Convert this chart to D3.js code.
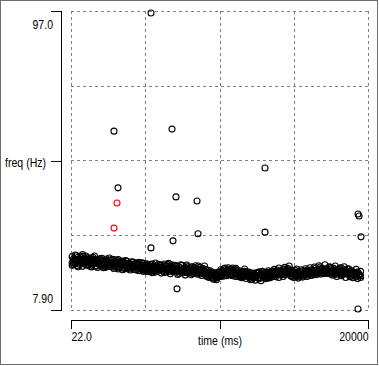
<!DOCTYPE html>
<html>
<head>
<meta charset="utf-8">
<script src="https://cdn.jsdelivr.net/npm/d3@7"></script>
<style>
  body { margin: 0; background: #fff; }
  svg { display: block; }
  text { font-family: "Liberation Sans", Arial, sans-serif; font-size: 13.5px; fill: #000; }
</style>
</head>
<body>
<script>
// pitch track: frame times (ms), three pitch estimates per frame (Hz)
var bandTimes = [
  100, 200, 300, 400, 500, 600, 700, 800, 900, 1000,
  1100, 1200, 1300, 1400, 1500, 1600, 1700, 1800, 1900, 2000,
  2100, 2200, 2300, 2400, 2500, 2600, 2700, 2800, 2900, 3000,
  3100, 3200, 3300, 3400, 3500, 3600, 3700, 3800, 3900, 4000,
  4100, 4200, 4300, 4400, 4500, 4600, 4700, 4800, 4900, 5000,
  5100, 5200, 5300, 5400, 5500, 5600, 5700, 5800, 5900, 6000,
  6100, 6200, 6300, 6400, 6500, 6600, 6700, 6800, 6900, 7000,
  7100, 7200, 7300, 7400, 7500, 7600, 7700, 7800, 7900, 8000,
  8100, 8200, 8300, 8400, 8500, 8600, 8700, 8800, 8900, 9000,
  9100, 9200, 9300, 9400, 9500, 9600, 9700, 9800, 9900, 10000,
  10100, 10200, 10300, 10400, 10500, 10600, 10700, 10800, 10900, 11000,
  11100, 11200, 11300, 11400, 11500, 11600, 11700, 11800, 11900, 12000,
  12100, 12200, 12300, 12400, 12500, 12600, 12700, 12800, 12900, 13000,
  13100, 13200, 13300, 13400, 13500, 13600, 13700, 13800, 13900, 14000,
  14100, 14200, 14300, 14400, 14500, 14600, 14700, 14800, 14900, 15000,
  15100, 15200, 15300, 15400, 15500, 15600, 15700, 15800, 15900, 16000,
  16100, 16200, 16300, 16400, 16500, 16600, 16700, 16800, 16900, 17000,
  17100, 17200, 17300, 17400, 17500, 17600, 17700, 17800, 17900, 18000,
  18100, 18200, 18300, 18400, 18500, 18600, 18700, 18800, 18900, 19000,
  19100, 19200, 19300, 19400, 19500
];
var bandFreqsA = [
  23.8, 21.4, 22.9, 24.1, 21.0, 22.6, 23.5, 20.9, 22.2, 24.0,
  21.3, 23.0, 22.6, 20.7, 23.6, 21.9, 22.8, 20.6, 21.5, 23.2,
  22.4, 20.5, 21.7, 23.1, 20.9, 22.0, 21.2, 23.0, 20.3, 21.8,
  22.7, 20.1, 21.5, 22.3, 19.9, 21.1, 22.6, 20.4, 21.8, 19.8,
  21.6, 22.2, 20.0, 20.9, 21.9, 19.6, 20.7, 22.0, 19.4, 20.5,
  21.7, 19.3, 20.4, 21.5, 19.0, 20.8, 21.9, 19.5, 20.1, 21.3,
  18.9, 20.6, 21.6, 19.2, 20.3, 21.8, 18.7, 20.0, 21.1, 19.6,
  20.9, 18.5, 19.9, 21.4, 19.1, 20.2, 18.3, 21.0, 19.7, 20.5,
  18.4, 20.8, 19.3, 21.1, 18.6, 19.9, 20.6, 18.2, 19.5, 21.0,
  18.0, 19.8, 17.6, 19.2, 18.3, 17.1, 19.0, 16.9, 18.4,
  17.8, 19.9, 18.5, 20.2, 19.0, 18.1, 20.5, 19.3,
  18.3, 20.4, 19.6, 17.9, 19.8, 18.6,
  19.5, 17.5, 18.9, 20.1, 17.3, 18.4, 19.2, 16.9, 18.7, 17.6,
  16.8, 18.9, 17.4, 19.3, 16.6, 18.1, 19.0, 17.2, 18.5, 19.6,
  17.5, 19.4, 18.2, 20.0, 17.8, 19.1, 20.4, 18.4, 19.6, 17.9, 20.6, 18.8, 19.9, 21.0,
  18.0, 19.7, 17.6, 18.9, 20.1, 17.4, 18.6,
  19.9, 17.7, 18.5, 20.2, 17.9, 19.4, 20.5, 18.2, 19.0, 20.7,
  18.4, 19.9, 21.1, 18.6, 20.3, 19.5, 21.4, 18.9, 20.0, 19.2,
  20.6, 18.3, 19.8, 21.0, 17.9, 19.4, 20.4, 18.1, 19.1, 20.8, 17.6, 18.8, 20.2, 17.8,
  19.6, 17.5, 18.9, 20.0, 17.3, 18.6, 19.4
];
var bandFreqsB = [
  22.0, 23.2, 21.7, 22.9, 23.6, 21.5, 22.4, 23.9, 21.8, 22.7,
  22.9, 21.2, 22.5, 23.4, 21.6, 22.8, 21.1, 22.3, 23.0, 21.4,
  21.0, 22.6, 21.9, 20.8, 22.3, 21.4, 22.8, 20.7, 21.9, 22.4,
  21.6, 20.5, 22.2, 21.0, 20.6, 22.0, 21.3, 20.2, 21.7, 20.9,
  20.3, 21.4, 20.8, 21.9, 20.1, 21.2, 20.6, 19.9, 21.3, 20.2,
  20.6, 21.2, 19.7, 20.3, 21.0, 19.6, 20.5, 21.1, 19.8, 20.4,
  20.7, 19.5, 20.2, 19.9, 21.0, 19.4, 20.5, 19.7, 20.4, 21.2,
  19.4, 20.3, 20.7, 19.2, 20.0, 19.5, 20.6, 19.3, 20.1, 19.0,
  19.9, 19.2, 20.4, 19.6, 20.0, 18.9, 19.7, 20.2, 18.8, 19.4,
  19.3, 18.5, 18.9, 18.1, 19.0, 18.4, 17.8, 18.6, 17.7,
  19.2, 18.4, 19.6, 18.8, 19.9, 19.3, 18.7, 20.0,
  19.6, 18.7, 19.2, 19.9, 18.5, 19.3,
  18.3, 19.0, 18.2, 18.7, 19.1, 17.9, 18.5, 18.1, 17.6, 18.3,
  18.4, 17.7, 18.2, 17.5, 18.7, 17.9, 18.3, 18.8, 17.7, 18.1,
  18.9, 18.3, 19.0, 18.6, 19.3, 18.5, 18.9, 19.5, 18.7, 19.8, 19.1, 19.6, 18.9, 19.3,
  19.4, 18.6, 19.1, 18.3, 18.8, 19.2, 18.2,
  18.5, 19.2, 18.9, 18.4, 19.4, 18.7, 19.1, 19.6, 18.8, 19.3,
  19.7, 19.0, 19.5, 20.0, 19.2, 19.9, 19.4, 20.2, 19.6, 20.4,
  19.1, 19.8, 19.3, 18.9, 19.6, 20.0, 19.0, 19.4, 18.7, 19.3, 19.8, 19.1, 18.6, 19.2,
  18.4, 19.1, 18.2, 18.7, 19.0, 18.3, 18.1
];
var bandFreqsC = [
  21.2, 22.4, 24.3, 22.1, 20.8, 23.1, 22.0, 24.4, 21.6, 23.3,
  23.7, 22.1, 20.9, 21.8, 22.9, 24.0, 21.0, 22.5, 21.7, 22.8,
  23.3, 21.5, 20.6, 22.7, 21.2, 23.4, 20.9, 21.6, 22.9, 20.8,
  21.2, 22.9, 20.7, 21.8, 22.5, 20.3, 21.4, 22.4, 20.6, 21.5,
  22.3, 20.5, 21.1, 19.8, 21.5, 22.1, 20.2, 21.0, 21.8, 19.7,
  19.8, 21.4, 20.9, 19.4, 21.6, 20.3, 19.2, 20.7, 21.5, 19.9,
  21.3, 20.4, 19.1, 20.9, 21.5, 19.8, 20.6, 21.4, 19.3, 20.2,
  21.1, 19.6, 18.8, 20.4, 21.2, 19.0, 20.3, 21.3, 18.9, 19.7,
  20.7, 18.8, 19.9, 20.5, 19.1, 21.0, 18.6, 19.8, 20.3, 18.7,
  19.9, 17.9, 18.7, 19.6, 17.6, 18.9, 18.2, 17.4, 19.1,
  18.5, 17.9, 19.4, 18.0, 20.4, 18.6, 19.5, 18.4,
  20.1, 18.1, 18.9, 20.3, 19.0, 17.8,
  18.0, 19.2, 17.8, 19.4, 18.6, 19.1, 17.7, 18.3, 17.1, 18.9,
  17.6, 18.2, 19.1, 17.3, 18.4, 19.4, 17.6, 18.0, 19.1, 17.4,
  18.1, 17.7, 19.5, 17.9, 18.8, 19.8, 17.6, 19.2, 18.6, 20.1, 18.4, 19.4, 20.3, 18.7,
  19.8, 17.9, 18.6, 19.7, 17.8, 19.0, 18.0,
  18.3, 19.6, 18.0, 19.0, 19.8, 18.3, 18.9, 19.9, 18.5, 19.6,
  20.4, 18.8, 19.2, 20.7, 19.0, 18.7, 20.1, 19.6, 18.8, 20.8,
  18.6, 19.2, 20.3, 18.5, 19.9, 18.8, 19.6, 20.5, 18.4, 19.7, 19.0, 20.1, 18.5, 19.3,
  18.0, 19.3, 18.6, 17.8, 19.2, 18.4, 17.6
];

// stray pitch estimates
var outlierTimes = [5404, 2915, 6816, 3184, 7085, 8498, 8565, 6884, 5404, 7153, 13072, 13072, 19328, 19396, 19530, 19328];
var outlierFreqs = [96.4, 61.2, 61.8, 44.3, 41.6, 40.4, 30.6, 28.5, 26.4, 14.2, 50.2, 31.1, 36.5, 35.9, 29.7, 8.2];

// points drawn in red
var flaggedTimes = [3116, 2915];
var flaggedFreqs = [39.8, 32.3];

// axes
var xDomain = [22, 20000];
var yDomain = [7.9, 97];
var xTickValues = [22, 10011, 20000];
var xTickLabels = ["22.0", "time (ms)", "20000"];
var yTickValues = [7.9, 52.45, 97];
var yTickLabels = ["7.90", "freq (Hz)", "97.0"];
var xGridValues = [22, 5016.5, 10011, 15005.5, 20000];
var yGridValues = [7.9, 30.175, 52.45, 74.725, 97];

var width = 379, height = 366;
var plot = {left: 71, right: 368, top: 11, bottom: 310};
var narrow = "scale(0.78,1)";

var svg = d3.select("body").append("svg")
  .attr("width", width)
  .attr("height", height);

// window frame
svg.append("rect")
  .attr("x", 0.5).attr("y", 0.5)
  .attr("width", width - 2).attr("height", height - 2)
  .attr("fill", "#fff")
  .attr("stroke", "#6e6e6e")
  .attr("stroke-width", 1);

var x = d3.scaleLinear().domain(xDomain).range([plot.left, plot.right]);
var y = d3.scaleLinear().domain(yDomain).range([plot.bottom, plot.top]);

// dashed grid
var grid = svg.append("g")
  .attr("stroke", "#808080")
  .attr("stroke-dasharray", "3,3")
  .attr("shape-rendering", "crispEdges");

grid.selectAll(".vg").data(xGridValues).enter().append("line")
  .attr("x1", function(d) { return Math.round(x(d)) + 0.5; })
  .attr("x2", function(d) { return Math.round(x(d)) + 0.5; })
  .attr("y1", plot.top).attr("y2", plot.bottom);

grid.selectAll(".hg").data(yGridValues).enter().append("line")
  .attr("y1", function(d) { return Math.round(y(d)) + 0.5; })
  .attr("y2", function(d) { return Math.round(y(d)) + 0.5; })
  .attr("x1", plot.left).attr("x2", plot.right);

// y axis
var yAxis = svg.append("g")
  .attr("transform", "translate(61,0)")
  .call(d3.axisLeft(y)
    .tickValues(yTickValues)
    .tickSize(10)
    .tickSizeOuter(10)
    .tickFormat(function(d, i) { return yTickLabels[i]; }));

var yLabelShift = [[-8, -8], [-15, 6], [-8, 17]];
yAxis.selectAll(".tick text")
  .attr("dy", null).attr("x", null).attr("y", null)
  .attr("transform", function(d, i) {
    return "translate(" + yLabelShift[i][0] + "," + yLabelShift[i][1] + ") " + narrow;
  });

// x axis
var xAxis = svg.append("g")
  .attr("transform", "translate(0,320)")
  .call(d3.axisBottom(x)
    .tickValues(xTickValues)
    .tickSize(9)
    .tickSizeOuter(9)
    .tickFormat(function(d, i) { return xTickLabels[i]; }));

var xAnchor = ["start", "middle", "end"];
var xLabelY = [21, 25, 21];
xAxis.selectAll(".tick text")
  .attr("dy", null).attr("y", null)
  .attr("text-anchor", function(d, i) { return xAnchor[i]; })
  .attr("transform", function(d, i) { return "translate(0," + xLabelY[i] + ") " + narrow; });

svg.selectAll(".domain, .tick line")
  .attr("stroke", "#000")
  .attr("shape-rendering", "crispEdges");
svg.selectAll(".tick text")
  .attr("font-family", null)
  .attr("font-size", null);

// points
function toPoints(times, freqs) {
  return times.map(function(t, i) { return {t: t, f: freqs[i]}; });
}

function drawPoints(data, colour) {
  svg.append("g").selectAll("circle")
    .data(data)
    .enter().append("circle")
    .attr("cx", function(d) { return x(d.t); })
    .attr("cy", function(d) { return y(d.f); })
    .attr("r", 3)
    .attr("fill", "none")
    .attr("stroke", colour)
    .attr("stroke-width", 1.1);
}

drawPoints(toPoints(bandTimes, bandFreqsA), "#000");
drawPoints(toPoints(bandTimes, bandFreqsB), "#000");
drawPoints(toPoints(bandTimes, bandFreqsC), "#000");
drawPoints(toPoints(outlierTimes, outlierFreqs), "#000");
drawPoints(toPoints(flaggedTimes, flaggedFreqs), "#ff0000");
</script>
</body>
</html>
